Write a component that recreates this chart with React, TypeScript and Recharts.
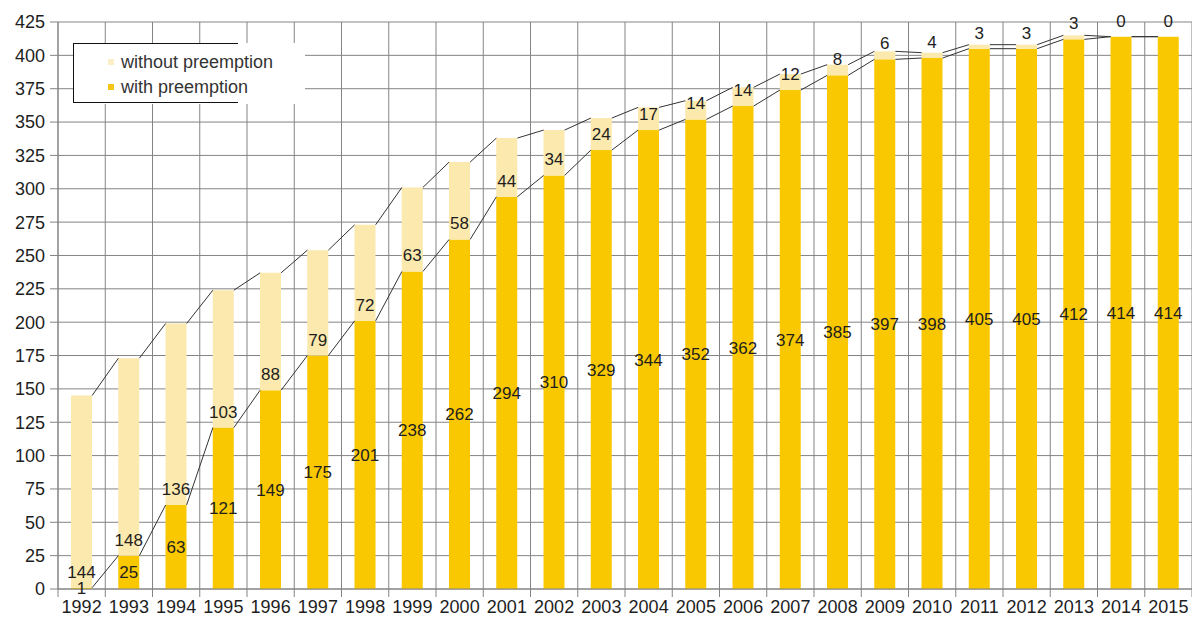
import React from 'react';
import {
  ComposedChart,
  Bar,
  Line,
  XAxis,
  YAxis,
  CartesianGrid,
  Legend,
  LabelList,
} from 'recharts';

const years = [
  1992, 1993, 1994, 1995, 1996, 1997, 1998, 1999, 2000, 2001, 2002, 2003,
  2004, 2005, 2006, 2007, 2008, 2009, 2010, 2011, 2012, 2013, 2014, 2015,
];
const withPreemption = [
  1, 25, 63, 121, 149, 175, 201, 238, 262, 294, 310, 329, 344, 352, 362, 374,
  385, 397, 398, 405, 405, 412, 414, 414,
];
const withoutPreemption = [
  144, 148, 136, 103, 88, 79, 72, 63, 58, 44, 34, 24, 17, 14, 14, 12, 8, 6, 4,
  3, 3, 3, 0, 0,
];
const yTicks = [0, 25, 50, 75, 100, 125, 150, 175, 200, 225, 250, 275, 300, 325, 350, 375, 400, 425];

const GOLD = '#FAC800';
const LIGHT = '#FCE9AE';
const GRID = '#848484';
const TEXT = '#1e1e1e';
const FONT = '"Liberation Sans", Arial, sans-serif';

const CHART_W = 1192;
const CHART_H = 620;
const Y_AXIS_W = 58;
const BAR_PX = 21;
const UNIT_PX = (CHART_W - Y_AXIS_W) / years.length;
const HALF = BAR_PX / 2 / UNIT_PX;

const data = years.map((year, i) => ({
  x: i,
  year,
  with: withPreemption[i],
  without: withoutPreemption[i],
}));

const totals = withPreemption.map((w, i) => w + withoutPreemption[i]);

// series lines: from the top of one bar's right edge to the next bar's left edge
function connectors(values: number[]) {
  const pts: { x: number; v: number | null }[] = [];
  for (let i = 0; i < values.length - 1; i++) {
    pts.push({ x: i + HALF, v: values[i] });
    pts.push({ x: i + 1 - HALF, v: values[i + 1] });
    pts.push({ x: i + 1, v: null });
  }
  return pts;
}
const withLine = connectors(withPreemption);
const totalLine = connectors(totals);

const gridTicks = years.map((_, i) => i - 0.5).concat([years.length - 0.5]);
const labelTicks = years.map((_, i) => i);

const legendItems = [
  { name: 'without preemption', color: '#FBEFC8' },
  { name: 'with preemption', color: '#F5C518' },
];

const LegendBox = () => (
  <div
    style={{
      position: 'relative',
      width: 232,
      height: 61,
      background: '#fff',
      fontFamily: FONT,
      fontSize: 18,
      color: '#333',
    }}
  >
    <div
      style={{
        position: 'absolute',
        left: 0,
        top: 0,
        width: 164,
        height: 58,
        borderLeft: '1.5px solid #111',
        borderTop: '1.5px solid #111',
        borderBottom: '1.5px solid #111',
      }}
    />
    {legendItems.map((it, i) => (
      <div
        key={it.name}
        style={{
          position: 'absolute',
          left: 35,
          top: 9 + i * 25,
          height: 20,
          display: 'flex',
          alignItems: 'center',
          whiteSpace: 'nowrap',
        }}
      >
        <span
          style={{
            display: 'inline-block',
            width: 6,
            height: 6,
            background: it.color,
            marginRight: 7,
          }}
        />
        <span>{it.name}</span>
      </div>
    ))}
  </div>
);

export default function App() {
  return (
    <div style={{ position: 'absolute', left: 0, top: 0, width: CHART_W, height: CHART_H, background: '#fff' }}>
      <ComposedChart
        width={CHART_W}
        height={CHART_H}
        data={data}
        margin={{ top: 22, right: 0, bottom: 0, left: 0 }}
      >
        <CartesianGrid
          xAxisId="grid"
          stroke={GRID}
          strokeWidth={1}
          vertical
          horizontal
        />
        <XAxis
          xAxisId="grid"
          type="number"
          dataKey="x"
          domain={[-0.5, years.length - 0.5]}
          ticks={gridTicks}
          interval={0}
          tickFormatter={() => ''}
          tickSize={8}
          tickMargin={0}
          height={8}
          axisLine={{ stroke: GRID }}
          tickLine={{ stroke: GRID }}
          allowDataOverflow
        />
        <XAxis
          xAxisId="lab"
          type="number"
          dataKey="x"
          domain={[-0.5, years.length - 0.5]}
          ticks={labelTicks}
          interval={0}
          tickFormatter={(v: number) => String(years[v])}
          axisLine={false}
          tickLine={false}
          tickSize={0}
          tickMargin={3}
          height={23}
          tick={{ fill: TEXT, fontSize: 18, fontFamily: FONT }}
          allowDataOverflow
        />
        <YAxis
          type="number"
          domain={[0, 425]}
          ticks={yTicks}
          interval={0}
          width={Y_AXIS_W}
          tickSize={8}
          tickMargin={5}
          axisLine={{ stroke: GRID }}
          tickLine={{ stroke: GRID }}
          tick={{ fill: TEXT, fontSize: 18, fontFamily: FONT }}
          allowDataOverflow
        />
        <Legend
          layout="horizontal"
          verticalAlign="middle"
          align="center"
          content={() => <LegendBox />}
          wrapperStyle={{ position: 'absolute', left: 73, top: 43, width: 'auto', height: 'auto' }}
        />
        <Bar
          xAxisId="lab"
          dataKey="with"
          name="with preemption"
          stackId="a"
          fill={GOLD}
          barSize={BAR_PX}
          isAnimationActive={false}
        >
          <LabelList
            dataKey="with"
            position="center"
            fill={TEXT}
            fontSize={17}
            fontFamily={FONT}
          />
          {/* "without preemption" counts sit just above the gold segment */}
          <LabelList
            dataKey="without"
            position="top"
            offset={10}
            fill={TEXT}
            fontSize={17}
            fontFamily={FONT}
          />
        </Bar>
        <Bar
          xAxisId="lab"
          dataKey="without"
          name="without preemption"
          stackId="a"
          fill={LIGHT}
          barSize={BAR_PX}
          isAnimationActive={false}
        />
        <Line
          xAxisId="grid"
          data={withLine}
          dataKey="v"
          stroke="#333"
          strokeWidth={1}
          dot={false}
          activeDot={false}
          connectNulls={false}
          legendType="none"
          isAnimationActive={false}
        />
        <Line
          xAxisId="grid"
          data={totalLine}
          dataKey="v"
          stroke="#333"
          strokeWidth={1}
          dot={false}
          activeDot={false}
          connectNulls={false}
          legendType="none"
          isAnimationActive={false}
        />
      </ComposedChart>
    </div>
  );
}
